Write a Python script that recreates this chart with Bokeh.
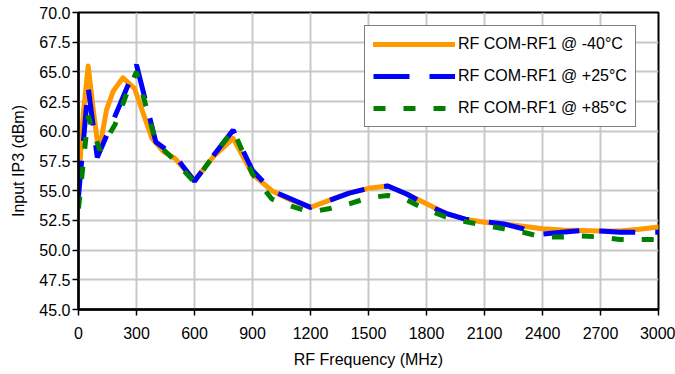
from bokeh.plotting import figure
from bokeh.models import ColumnDataSource, Legend, LegendItem, FixedTicker, NumeralTickFormatter
from bokeh.embed import file_html
from bokeh.resources import INLINE

# Data
freq_m40 = [0, 25, 50, 75, 105, 145, 180, 230, 290, 335, 380, 440, 500, 600, 700, 800, 900, 1000, 1100, 1200,
            1300, 1400, 1500, 1600, 1700, 1800, 1900, 2000, 2100, 2200, 2300, 2400, 2500, 2600, 2700, 2800,
            2900, 3000]
ip3_m40 = [55.5, 61.5, 65.5, 62.0, 58.2, 61.8, 63.4, 64.5, 63.6, 61.5, 59.4, 58.3, 57.7, 55.85, 57.9, 59.4,
           56.4, 55.0, 54.2, 53.6, 54.2, 54.8, 55.2, 55.4, 54.7, 53.9, 53.1, 52.6, 52.35, 52.2, 52.0, 51.8,
           51.7, 51.65, 51.6, 51.6, 51.75, 51.95]

freq_p25 = [0, 50, 97, 200, 300, 400, 500, 600, 700, 800, 900, 1000, 1100, 1200, 1300, 1400,
            1500, 1600, 1700, 1800, 1900, 2000, 2100, 2200, 2300, 2400, 2500, 2600, 2700, 2800, 2900, 3000]
ip3_p25 = [54.5, 63.7, 57.8, 61.7, 65.6, 59.1, 57.9, 55.8, 58.0, 60.1, 56.7, 55.0, 54.3, 53.6, 54.2, 54.8,
           55.2, 55.4, 54.7, 53.8, 53.1, 52.6, 52.4, 52.2, 51.8, 51.35, 51.5, 51.65, 51.6, 51.5, 51.5, 51.5]

freq_p85 = [0, 50, 110, 190, 250, 300, 400, 500, 600, 700, 800, 900, 1000, 1100, 1200, 1300, 1400,
            1500, 1600, 1700, 1800, 1900, 2000, 2100, 2200, 2300, 2400, 2500, 2600, 2700, 2800, 2900, 3000]
ip3_p85 = [53.5, 61.3, 58.4, 60.6, 63.2, 65.0, 59.1, 57.5, 55.7, 58.0, 60.1, 56.4, 54.3, 53.7, 53.2, 53.5,
           53.9, 54.4, 54.6, 54.2, 53.4, 52.8, 52.4, 52.1, 51.8, 51.5, 51.1, 51.1, 51.2, 51.1, 50.9, 50.9, 50.9]

series_labels = ["RF COM-RF1 @ -40°C", "RF COM-RF1 @ +25°C", "RF COM-RF1 @ +85°C"]
x_ticks = [0, 300, 600, 900, 1200, 1500, 1800, 2100, 2400, 2700, 3000]
y_ticks = [45.0, 47.5, 50.0, 52.5, 55.0, 57.5, 60.0, 62.5, 65.0, 67.5, 70.0]

FONT = "Liberation Sans"

p = figure(width=675, height=374, frame_width=580, frame_height=297,
           min_border_left=78, min_border_right=17, min_border_top=12, min_border_bottom=65,
           x_range=(0, 3000), y_range=(45, 70),
           output_backend="svg", toolbar_location=None)
p.background_fill_color = "white"
p.border_fill_color = "white"
p.outline_line_color = "black"
p.outline_line_width = 2

for ax in (p.xaxis[0], p.yaxis[0]):
    ax.axis_line_color = "black"
    ax.axis_line_width = 2.5
    ax.major_tick_line_color = "black"
    ax.major_tick_line_width = 1.5
    ax.major_tick_out = 6
    ax.major_tick_in = 0
    ax.minor_tick_line_color = None
    ax.major_label_text_font = FONT
    ax.major_label_text_font_size = "16px"
    ax.major_label_text_color = "black"
    ax.axis_label_text_font = FONT
    ax.axis_label_text_font_size = "16px"
    ax.axis_label_text_font_style = "normal"
    ax.axis_label_text_color = "black"

p.xaxis.ticker = FixedTicker(ticks=x_ticks)
p.yaxis.ticker = FixedTicker(ticks=y_ticks)
p.yaxis.formatter = NumeralTickFormatter(format="0.0")
p.xaxis.axis_label = "RF Frequency (MHz)"
p.yaxis.axis_label = "Input IP3 (dBm)"
p.xaxis.major_label_standoff = 11
p.yaxis.major_label_standoff = 2
p.xaxis.axis_label_standoff = 9
p.yaxis.axis_label_standoff = 9

p.xgrid.ticker = FixedTicker(ticks=x_ticks)
p.ygrid.ticker = FixedTicker(ticks=y_ticks)
p.grid.grid_line_color = "#c8c8c8"
p.grid.grid_line_width = 2

s1 = ColumnDataSource(dict(x=freq_m40, y=ip3_m40))
s2 = ColumnDataSource(dict(x=freq_p25, y=ip3_p25))
s3 = ColumnDataSource(dict(x=freq_p85, y=ip3_p85))

r1 = p.line("x", "y", source=s1, line_color="#FF9900", line_width=5, line_cap="round", line_join="round")
r2 = p.line("x", "y", source=s2, line_color="#0000FF", line_width=5, line_dash="36 20")
r3 = p.line("x", "y", source=s3, line_color="#008000", line_width=5, line_dash="12 18")

legend = Legend(items=[LegendItem(label=series_labels[0], renderers=[r1]),
                       LegendItem(label=series_labels[1], renderers=[r2]),
                       LegendItem(label=series_labels[2], renderers=[r3])],
                location=(286, 182))
legend.label_text_font = FONT
legend.label_text_font_size = "16px"
legend.label_text_color = "black"
legend.glyph_width = 82
legend.glyph_height = 20
legend.label_height = 20
legend.label_standoff = 3
legend.spacing = 12
legend.padding = 8
legend.margin = 0
legend.border_line_color = "black"
legend.border_line_width = 1
legend.background_fill_color = "white"
legend.background_fill_alpha = 1
p.add_layout(legend, "center")

open("out.html", "w").write(file_html(p, INLINE))
